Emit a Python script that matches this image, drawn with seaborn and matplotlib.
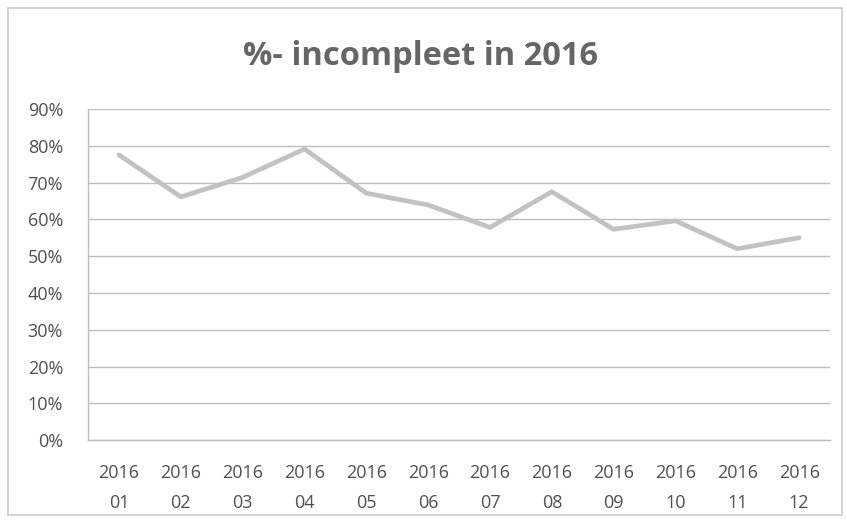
import numpy as np
import pandas as pd
import seaborn as sns
from matplotlib import pyplot as plt
from matplotlib.patches import Rectangle

# monthly share of incomplete records, 2016
months = ["01", "02", "03", "04", "05", "06", "07", "08", "09", "10", "11", "12"]
incompleet = [77.5, 66.1, 71.4, 79.1, 67.1, 63.9, 57.8, 67.5, 57.3, 59.6, 52.0, 55.0]
y_ticks = [0, 10, 20, 30, 40, 50, 60, 70, 80, 90]

df = pd.DataFrame({"maand": ["2016\n" + m for m in months], "pct": incompleet})

sns.set_theme(style="white")
plt.rcParams["font.family"] = ["Open Sans", "DejaVu Sans"]

fig = plt.figure(figsize=(8.47, 5.26), dpi=100)
ax = fig.add_axes([0.104, 0.163, 0.876, 0.630])

sns.lineplot(data=df, x="maand", y="pct", ax=ax, color="#c2c2c2", linewidth=3.4,
             sort=False)

ax.set_xlim(-0.5, len(months) - 0.5)
ax.set_ylim(0, 90)
ax.set_yticks(y_ticks)
ax.set_yticklabels([f"{v}%" for v in y_ticks])
ax.yaxis.grid(True, color="#bdbdbd", linewidth=1.0)
ax.set_axisbelow(True)

ax.set_xticks(np.arange(len(months)))
ax.set_xticklabels(df["maand"], linespacing=1.9)
ax.set_xticks(np.arange(len(months) + 1) - 0.5, minor=True)
ax.tick_params(axis="x", which="major", length=0, pad=17, labelsize=13, colors="#505050")
ax.tick_params(axis="x", which="minor", length=5, width=1, color="#bdbdbd", direction="out")
ax.tick_params(axis="y", length=4, width=1, labelsize=13, colors="#505050", pad=14)
ax.tick_params(axis="y", color="#bdbdbd")

for side in ["top", "right"]:
    ax.spines[side].set_visible(False)
for side in ["left", "bottom"]:
    ax.spines[side].set_color("#bdbdbd")
    ax.spines[side].set_linewidth(1.0)

ax.set_xlabel("")
ax.set_ylabel("")

fig.text(0.497, 0.893, "%- incompleet in 2016", ha="center", va="center",
         fontsize=23.5, fontweight="bold", color="#666666")

fig.patches.append(Rectangle((0.009, 0.02), 0.985, 0.965, transform=fig.transFigure,
                             fill=False, edgecolor="#cccccc", linewidth=1.2))

fig.savefig("out.png", dpi=100)
